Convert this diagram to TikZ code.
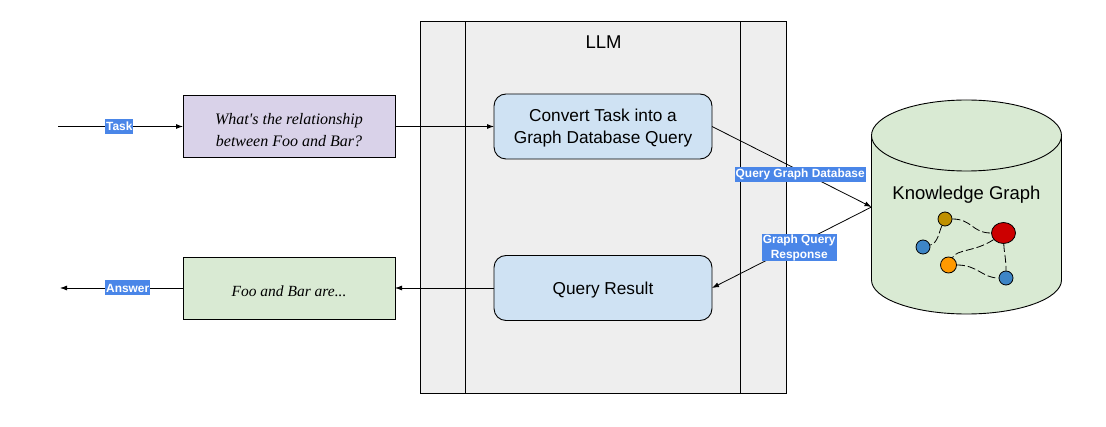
\documentclass[tikz,border=0pt]{standalone}
\usepackage{fontspec}
\setmainfont{Liberation Sans}
\newfontfamily\handfont{Liberation Serif}
\usetikzlibrary{arrows.meta,shapes.geometric}
\definecolor{llmgrey}{HTML}{EEEEEE}
\definecolor{taskpurple}{HTML}{D9D2E9}
\definecolor{stepblue}{HTML}{CFE2F3}
\definecolor{graphgreen}{HTML}{D9EAD3}
\definecolor{tagblue}{HTML}{4A86E8}
\definecolor{dotgold}{HTML}{BF9000}
\definecolor{dotblue}{HTML}{3D85C6}
\definecolor{dotred}{HTML}{CC0000}
\definecolor{dotorange}{HTML}{FF9900}
\tikzset{
    block/.style = {draw, rectangle, outer sep=0pt, line width=0.9pt,
        minimum height=65pt,
        minimum width=218pt, rounded corners=12pt, fill=stepblue,
        align=center, text depth=0pt, font=\fontsize{17.25}{22}\selectfont},
    note/.style = {draw, rectangle, outer sep=0pt, line width=0.9pt,
        minimum height=62pt,
        minimum width=212pt, align=center, text depth=0pt,
        font=\handfont\itshape\fontsize{16}{22}\selectfont},
    tag/.style = {fill=tagblue, text=white, inner xsep=1pt, inner ysep=1pt, align=center,
        minimum height=15pt, font=\bfseries\fontsize{11.9}{14.5}\selectfont},
    arrow/.style = {draw, line width=0.8pt, -{Latex[length=7pt,width=5pt]}},
    dot/.style = {draw, circle, line width=0.8pt, inner sep=0pt, minimum size=14pt},
    link/.style = {draw, line width=0.8pt, dash pattern=on 8pt off 3pt}
}
\begin{document}
\begin{tikzpicture}[x=1pt, y=-1pt]
    \useasboundingbox (0,0) rectangle (1106,427);
    % llm column
    \draw [fill=llmgrey, line width=0.8pt] (420.7,21.7) rectangle (786,393);
    \draw [line width=0.8pt] (465.7,21.7) -- (465.7,393);
    \draw [line width=0.8pt] (740.7,21.7) -- (740.7,393);
    \node [font=\fontsize{18.5}{20}\selectfont] (llm) at (603.5,42) {LLM};
    % boxes
    \node [block] (convert) at (603,126.5) {Convert Task into a\\Graph Database Query};
    \node [block, below of=convert, node distance=161.5pt] (result) {Query Result};
    \node [note, fill=taskpurple, text height=40pt] (question) at (289,126.5) {What's the relationship\\between Foo and Bar?};
    \node [note, fill=graphgreen, below of=question, node distance=161.5pt, text height=17pt, font=\handfont\itshape\fontsize{15.5}{22}\selectfont] (answer) {Foo and Bar are...};
    \coordinate (taskin) at (58,126.5);
    \coordinate (answerout) at (60,288);
    \coordinate (kgport) at (871.5,207);
    % knowledge graph
    \draw [fill=graphgreen, line width=0.9pt] (871.5,135.5) arc[x radius=95pt, y radius=35.5pt, start angle=180, end angle=0]
        -- (1061.5,280) arc[x radius=95pt, y radius=34pt, start angle=360, end angle=180] -- cycle;
    \draw [line width=0.9pt] (871.5,135.5) arc[x radius=95pt, y radius=35.5pt, start angle=180, end angle=360];
    \node [font=\fontsize{18.5}{20}\selectfont, text depth=0pt] (kg) at (966.5,193) {Knowledge Graph};
    \node [dot, fill=dotgold] (gold) at (945,219) {};
    \node [dot, fill=dotblue] (bluea) at (923,247) {};
    \node [dot, fill=dotorange, minimum size=16pt] (orange) at (948.5,265) {};
    \node [dot, fill=dotblue] (blueb) at (1006,278) {};
    \node [draw, ellipse, fill=dotred, line width=0.8pt, inner sep=0pt, minimum width=24pt, minimum height=21pt] (red) at (1003.5,233) {};
    \draw [link] (gold) .. controls (939,232) and (938,243) .. (bluea);
    \draw [link] (gold) .. controls (972,219) and (972,233) .. (red);
    \draw [link] (red) .. controls (975,252) and (957,249) .. (orange);
    \draw [link] (orange) .. controls (978,265) and (982,278) .. (blueb);
    \draw [link] (red) .. controls (1004,252) and (1006,258) .. (blueb);
    % connectors
    \draw [arrow] (taskin) -- node [tag, pos=0.49] (tasktag) {Task} (question);
    \draw [arrow] (question) -- (convert);
    \draw [arrow] (convert.east) -- node [tag, pos=0.553, yshift=-3pt] (querytag) {Query Graph Database} (kgport);
    \draw [arrow] (kgport) -- node [tag, pos=0.453, yshift=-4pt] (responsetag) {Graph Query\\Response} (result.east);
    \draw [arrow] (result) -- (answer);
    \draw [arrow] (answer) -- node [tag, pos=0.45] (answertag) {Answer} (answerout);
\end{tikzpicture}
\end{document}
